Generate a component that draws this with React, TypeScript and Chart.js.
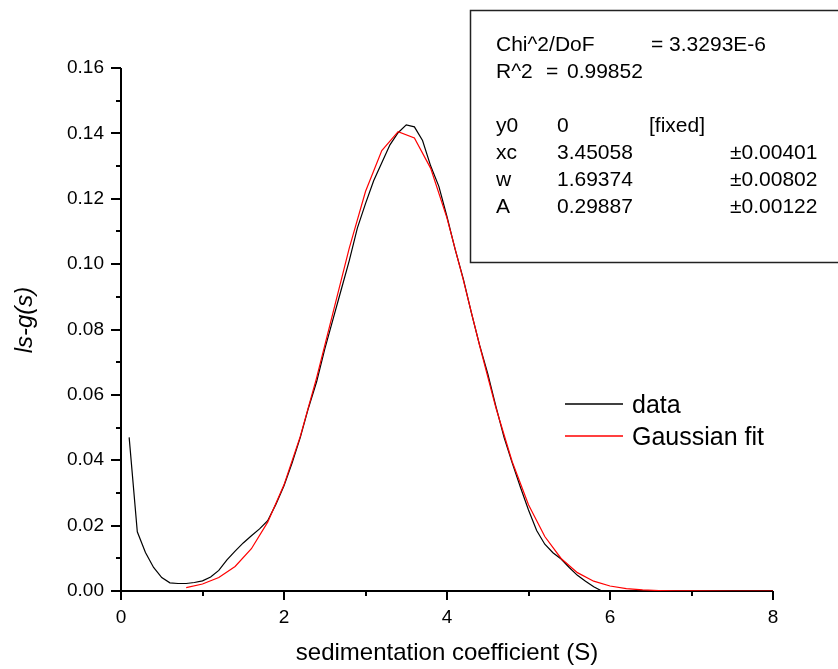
import React, { useEffect, useRef } from "react";
import { Chart, registerables } from "chart.js";

Chart.register(...registerables);

// ---- data ----
const dataS = [
  0.1, 0.2, 0.3, 0.4, 0.5, 0.6, 0.7, 0.8, 0.9, 1.0,
  1.1, 1.2, 1.3, 1.4, 1.5, 1.6, 1.7, 1.8, 1.9, 2.0,
  2.1, 2.2, 2.3, 2.4, 2.5, 2.6, 2.7, 2.8, 2.9, 3.0,
  3.1, 3.2, 3.3, 3.4, 3.5, 3.6, 3.7, 3.8, 3.9, 4.0,
  4.1, 4.2, 4.3, 4.4, 4.5, 4.6, 4.7, 4.8, 4.9, 5.0,
  5.1, 5.2, 5.3, 5.4, 5.5, 5.6, 5.7, 5.8, 5.9,
];
const dataG = [
  0.047, 0.0181, 0.0118, 0.0072, 0.0041, 0.0025, 0.0023, 0.0023, 0.0026, 0.0031,
  0.0043, 0.0063, 0.0095, 0.0122, 0.0147, 0.0169, 0.019, 0.0215, 0.0265, 0.0322,
  0.0392, 0.047, 0.056, 0.064, 0.074, 0.083, 0.092, 0.101, 0.111, 0.1185,
  0.1255, 0.131, 0.1365, 0.1402, 0.1426, 0.142, 0.1378, 0.13, 0.1238, 0.1145,
  0.1045, 0.0955, 0.085, 0.0752, 0.0665, 0.0565, 0.047, 0.0392, 0.0318, 0.0248,
  0.0185, 0.0143, 0.0117, 0.0098, 0.0072, 0.0048, 0.003, 0.0013, 0.0,
];
const fitS = [
  0.8, 1.0, 1.2, 1.4, 1.6, 1.8, 2.0, 2.2, 2.4, 2.6,
  2.8, 3.0, 3.2, 3.4, 3.6, 3.8, 4.0, 4.2, 4.4, 4.6,
  4.8, 5.0, 5.2, 5.4, 5.6, 5.8, 6.0, 6.2, 6.4, 6.6,
  6.8, 7.0, 7.5, 8.0,
];
const fitG = [
  0.00105, 0.00214, 0.00412, 0.00751, 0.01293, 0.02107, 0.03247, 0.04732, 0.06522, 0.08502,
  0.10481, 0.12221, 0.13476, 0.14054, 0.13862, 0.1293, 0.11407, 0.09518, 0.0751, 0.05605,
  0.03956, 0.02641, 0.01667, 0.00995, 0.00562, 0.003, 0.00152, 0.00072, 0.00033, 0.00014,
  0.00006, 0.00002, 0.0, 0.0,
];

const xTitle = "sedimentation coefficient (S)";
const yTitle = "ls-g(s)";
const legendLabels = ["data", "Gaussian fit"];
const statLabels = ["Chi^2/DoF", "R^2"];
const statValues = ["3.3293E-6", "0.99852"];
const paramNames = ["y0", "xc", "w", "A"];
const paramValues = ["0", "3.45058", "1.69374", "0.29887"];
const paramErrors = ["[fixed]", "±0.00401", "±0.00802", "±0.00122"];

const FONT = "'Liberation Sans', Arial, Helvetica, sans-serif";

const decorPlugin = {
  id: "decor",
  beforeDatasetsDraw(chart: any) {
    const ctx = chart.ctx as CanvasRenderingContext2D;
    const { left, right, top, bottom } = chart.chartArea;
    const xs = chart.scales.x;
    const ys = chart.scales.y;
    ctx.save();
    ctx.strokeStyle = "#000";
    ctx.lineWidth = 2;
    ctx.beginPath();
    ctx.moveTo(left, top);
    ctx.lineTo(left, bottom + 1);
    ctx.moveTo(left - 1, bottom);
    ctx.lineTo(right, bottom);
    ctx.stroke();
    ctx.beginPath();
    ys.ticks.forEach((t: any) => {
      const y = Math.round(ys.getPixelForValue(t.value));
      const major = Math.round(t.value * 100) % 2 === 0;
      ctx.moveTo(left, y);
      ctx.lineTo(left - (major ? 10 : 5), y);
    });
    xs.ticks.forEach((t: any) => {
      const x = Math.round(xs.getPixelForValue(t.value));
      const major = Math.round(t.value) % 2 === 0;
      ctx.moveTo(x, bottom);
      ctx.lineTo(x, bottom + (major ? 9 : 5));
    });
    ctx.stroke();
    ctx.restore();
  },
  afterDraw(chart: any) {
    const ctx = chart.ctx as CanvasRenderingContext2D;
    ctx.save();
    // y title
    ctx.fillStyle = "#000";
    ctx.save();
    ctx.translate(25, 320);
    ctx.rotate(-Math.PI / 2);
    ctx.font = `italic 24px ${FONT}`;
    ctx.textAlign = "center";
    ctx.textBaseline = "middle";
    ctx.fillText(yTitle, 0, 0);
    ctx.restore();

    // legend
    const legendColors = ["#000000", "#ff0000"];
    const ly = [404, 436];
    ctx.font = `25px ${FONT}`;
    ctx.textAlign = "left";
    ctx.textBaseline = "alphabetic";
    legendLabels.forEach((lab, i) => {
      ctx.strokeStyle = legendColors[i];
      ctx.lineWidth = 1.3;
      ctx.beginPath();
      ctx.moveTo(565, ly[i]);
      ctx.lineTo(623, ly[i]);
      ctx.stroke();
      ctx.fillStyle = "#000";
      ctx.fillText(lab, 632, ly[i] + 9);
    });

    // stats box
    ctx.fillStyle = "#fff";
    ctx.fillRect(470, 10, 380, 252);
    ctx.strokeStyle = "#222";
    ctx.lineWidth = 1.5;
    ctx.strokeRect(470.5, 10.5, 380, 252);
    ctx.fillStyle = "#000";
    ctx.font = `21px ${FONT}`;
    const base = 51;
    const step = 27;
    ctx.fillText(statLabels[0], 496, base);
    ctx.fillText("= " + statValues[0], 651, base);
    ctx.fillText(statLabels[1], 496, base + step);
    ctx.fillText("=", 546, base + step);
    ctx.fillText(statValues[1], 567, base + step);
    paramNames.forEach((n, i) => {
      const y = base + step * (3 + i);
      ctx.fillText(n, 496, y);
      ctx.fillText(paramValues[i], 557, y);
      const e = paramErrors[i];
      ctx.fillText(e, e.startsWith("[") ? 649 : 730, y);
    });
    ctx.restore();
  },
};

export default function App() {
  const ref = useRef<HTMLCanvasElement>(null);
  useEffect(() => {
    if (!ref.current) return;
    const chart = new Chart(ref.current, {
      type: "scatter",
      data: {
        datasets: [
          {
            label: legendLabels[0],
            data: dataS.map((x, i) => ({ x, y: dataG[i] })),
            showLine: true,
            borderColor: "#000000",
            borderWidth: 1.2,
            pointRadius: 0,
            tension: 0,
            order: 2,
          },
          {
            label: legendLabels[1],
            data: fitS.map((x, i) => ({ x, y: fitG[i] })),
            showLine: true,
            borderColor: "#ff0000",
            borderWidth: 1.2,
            pointRadius: 0,
            tension: 0,
            order: 1,
          },
        ],
      },
      options: {
        responsive: false,
        animation: false,
        devicePixelRatio: 1,
        layout: { padding: { top: 68, right: 65, bottom: 0, left: 0 } },
        plugins: { legend: { display: false }, tooltip: { enabled: false } },
        scales: {
          x: {
            type: "linear",
            min: 0,
            max: 8,
            afterFit: (s: any) => { s.height = 78; },
            grid: { display: false, drawTicks: false, tickLength: 0 },
            border: { display: false },
            ticks: {
              stepSize: 1,
              padding: 15,
              color: "#000",
              font: { family: FONT, size: 19 },
              callback: (v: any) => (Math.round(v) % 2 === 0 ? String(Math.round(v)) : ""),
            },
            title: {
              display: true,
              text: xTitle,
              color: "#000",
              font: { family: FONT, size: 24 },
              padding: { top: 0, bottom: 1 },
            },
          },
          y: {
            type: "linear",
            min: 0,
            max: 0.16,
            afterFit: (s: any) => { s.width = 121; },
            grid: { display: false, drawTicks: false, tickLength: 0 },
            border: { display: false },
            ticks: {
              stepSize: 0.01,
              padding: 17,
              color: "#000",
              font: { family: FONT, size: 19 },
              callback: (v: any) => {
                const k = Math.round(v * 100);
                return k % 2 === 0 ? (k / 100).toFixed(2) : "";
              },
            },
          },
        },
      },
      plugins: [decorPlugin],
    });
    return () => chart.destroy();
  }, []);
  return (
    <div style={{ position: "fixed", left: 0, top: 0, width: 838, height: 669, background: "#fff" }}>
      <canvas ref={ref} width={838} height={669} style={{ width: 838, height: 669 }} />
    </div>
  );
}
